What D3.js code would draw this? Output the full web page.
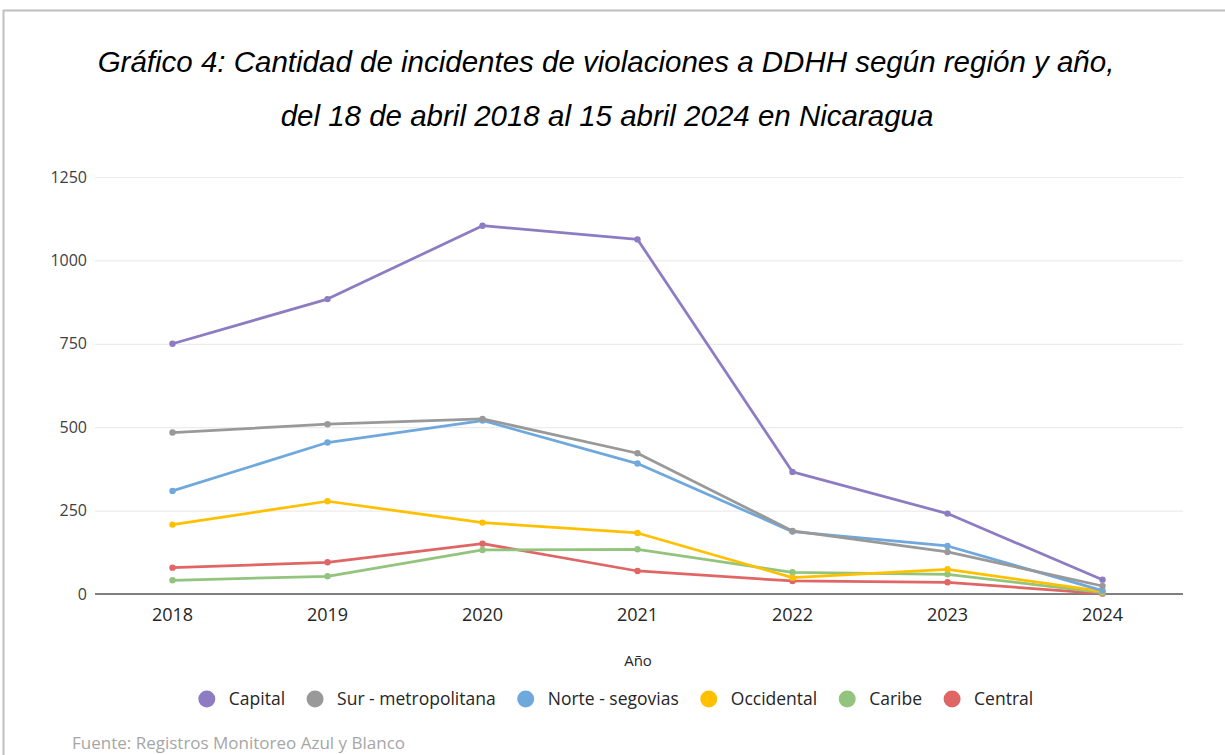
<!DOCTYPE html>
<html>
<head>
<meta charset="utf-8">
<script src="https://cdn.jsdelivr.net/npm/d3@7"></script>
<style>
  body { margin: 0; background: #fff; }
  svg { display: block; }
</style>
</head>
<body>
<div id="chart"></div>
<script>
const years = ['2018', '2019', '2020', '2021', '2022', '2023', '2024'];
const regions = ['Capital', 'Sur - metropolitana', 'Norte - segovias', 'Occidental', 'Caribe', 'Central'];
const capital = [750, 884, 1104, 1063, 366, 241, 43];
const surMetropolitana = [484, 509, 525, 422, 189, 126, 24];
const norteSegovias = [309, 454, 520, 391, 187, 144, 10];
const occidental = [208, 278, 214, 183, 49, 74, 8];
const caribe = [41, 53, 132, 134, 65, 59, 4];
const central = [79, 95, 151, 69, 39, 35, 1];
const yTicks = [0, 250, 500, 750, 1000, 1250];

const seriesValues = [capital, surMetropolitana, norteSegovias, occidental, caribe, central];
const colors = ['#8e7cc3', '#999999', '#6fa8dc', '#ffc000', '#93c47d', '#e06666'];

const width = 1225;
const height = 755;
const margin = { top: 177, right: 42, bottom: 161, left: 95 };
const usableArea = {
    left: margin.left,
    right: width - margin.right,
    top: margin.top,
    bottom: height - margin.bottom,
};

const svg = d3.select('#chart')
    .append('svg')
    .attr('width', width)
    .attr('height', height);

// page frame
svg.append('rect')
    .attr('x', 3.5).attr('y', 10.5)
    .attr('width', width + 10).attr('height', height)
    .attr('fill', 'none')
    .attr('stroke', '#bfbfbf')
    .attr('stroke-width', 2);

// title
const title = svg.append('text')
    .attr('text-anchor', 'middle')
    .style('font-family', '"Liberation Sans", Arial, sans-serif')
    .style('font-style', 'italic')
    .style('font-size', '29.5px')
    .attr('fill', '#000');
title.append('tspan').attr('x', 606).attr('y', 72)
    .text('Gráfico 4: Cantidad de incidentes de violaciones a DDHH según región y año,');
title.append('tspan').attr('x', 607).attr('y', 126)
    .text('del 18 de abril 2018 al 15 abril 2024 en Nicaragua');

const xScale = d3.scaleBand()
    .domain(years)
    .range([usableArea.left, 1180]);

const yScale = d3.scaleLinear()
    .domain([0, 1250])
    .range([usableArea.bottom, usableArea.top]);

// gridlines
svg.append('g')
    .attr('class', 'gridlines')
    .attr('transform', `translate(${usableArea.left},0)`)
    .call(d3.axisLeft(yScale).tickValues(yTicks).tickSize(-(usableArea.right - usableArea.left)).tickFormat(''))
    .call(g => g.select('.domain').remove())
    .call(g => g.selectAll('line').attr('stroke', '#ececec').attr('stroke-width', 1.2));

// y axis labels
svg.append('g')
    .attr('transform', `translate(${usableArea.left - 8},0)`)
    .call(d3.axisLeft(yScale).tickValues(yTicks).tickFormat(d3.format('d')).tickSize(0).tickPadding(0))
    .call(g => g.select('.domain').remove())
    .call(g => g.selectAll('text')
        .attr('fill', '#404040')
        .style('font-family', '"Open Sans", sans-serif')
        .style('font-size', '16px'));

// x axis
svg.append('g')
    .attr('transform', `translate(0,${usableArea.bottom})`)
    .call(d3.axisBottom(xScale).tickSize(0).tickPadding(14))
    .call(g => g.select('.domain').attr('stroke', '#595959').attr('stroke-width', 1.5)
        .attr('d', `M${usableArea.left},0H${usableArea.right}`))
    .call(g => g.selectAll('text')
        .attr('fill', '#262626')
        .style('font-family', '"Open Sans", sans-serif')
        .style('font-size', '18px'));

svg.append('text')
    .attr('x', 638).attr('y', 666)
    .attr('text-anchor', 'middle')
    .attr('fill', '#262626')
    .style('font-family', '"Open Sans", sans-serif')
    .style('font-size', '15px')
    .text('Año');

const xPos = d => xScale(d) + xScale.bandwidth() / 2;
const line = d3.line()
    .x((d, i) => xPos(years[i]))
    .y(d => yScale(d));

const seriesGroup = svg.append('g').attr('class', 'series');
seriesValues.forEach((values, k) => {
    const idx = seriesValues.length - 1 - k; // draw lower series first
    const vals = seriesValues[idx];
    const g = seriesGroup.append('g');
    g.append('path')
        .datum(vals)
        .attr('d', line)
        .attr('fill', 'none')
        .attr('stroke', colors[idx])
        .attr('stroke-width', 2.75)
        .attr('stroke-linejoin', 'round');
    g.selectAll('circle')
        .data(vals)
        .join('circle')
        .attr('cx', (d, i) => xPos(years[i]))
        .attr('cy', d => yScale(d))
        .attr('r', 3.2)
        .attr('fill', colors[idx]);
});

// legend
const legend = svg.append('g').attr('class', 'legend');
let cursor = 0;
const items = [];
regions.forEach((name, i) => {
    const item = legend.append('g');
    item.append('circle').attr('cx', 8).attr('cy', 0).attr('r', 8.5).attr('fill', colors[i]);
    const t = item.append('text')
        .attr('x', 30).attr('y', 6)
        .attr('fill', '#262626')
        .style('font-family', '"Open Sans", sans-serif')
        .style('font-size', '17.5px')
        .text(name);
    const w = 30 + t.node().getComputedTextLength();
    items.push({ item, x: cursor });
    cursor += w + 22;
});
const legendWidth = cursor - 22;
const legendStart = 616 - legendWidth / 2;
items.forEach(d => d.item.attr('transform', `translate(${legendStart + d.x},699)`));

svg.append('text')
    .attr('x', 72).attr('y', 749)
    .attr('fill', '#a6a6a6')
    .style('font-family', '"Open Sans", sans-serif')
    .style('font-size', '17px')
    .text('Fuente: Registros Monitoreo Azul y Blanco');
</script>
</body>
</html>
